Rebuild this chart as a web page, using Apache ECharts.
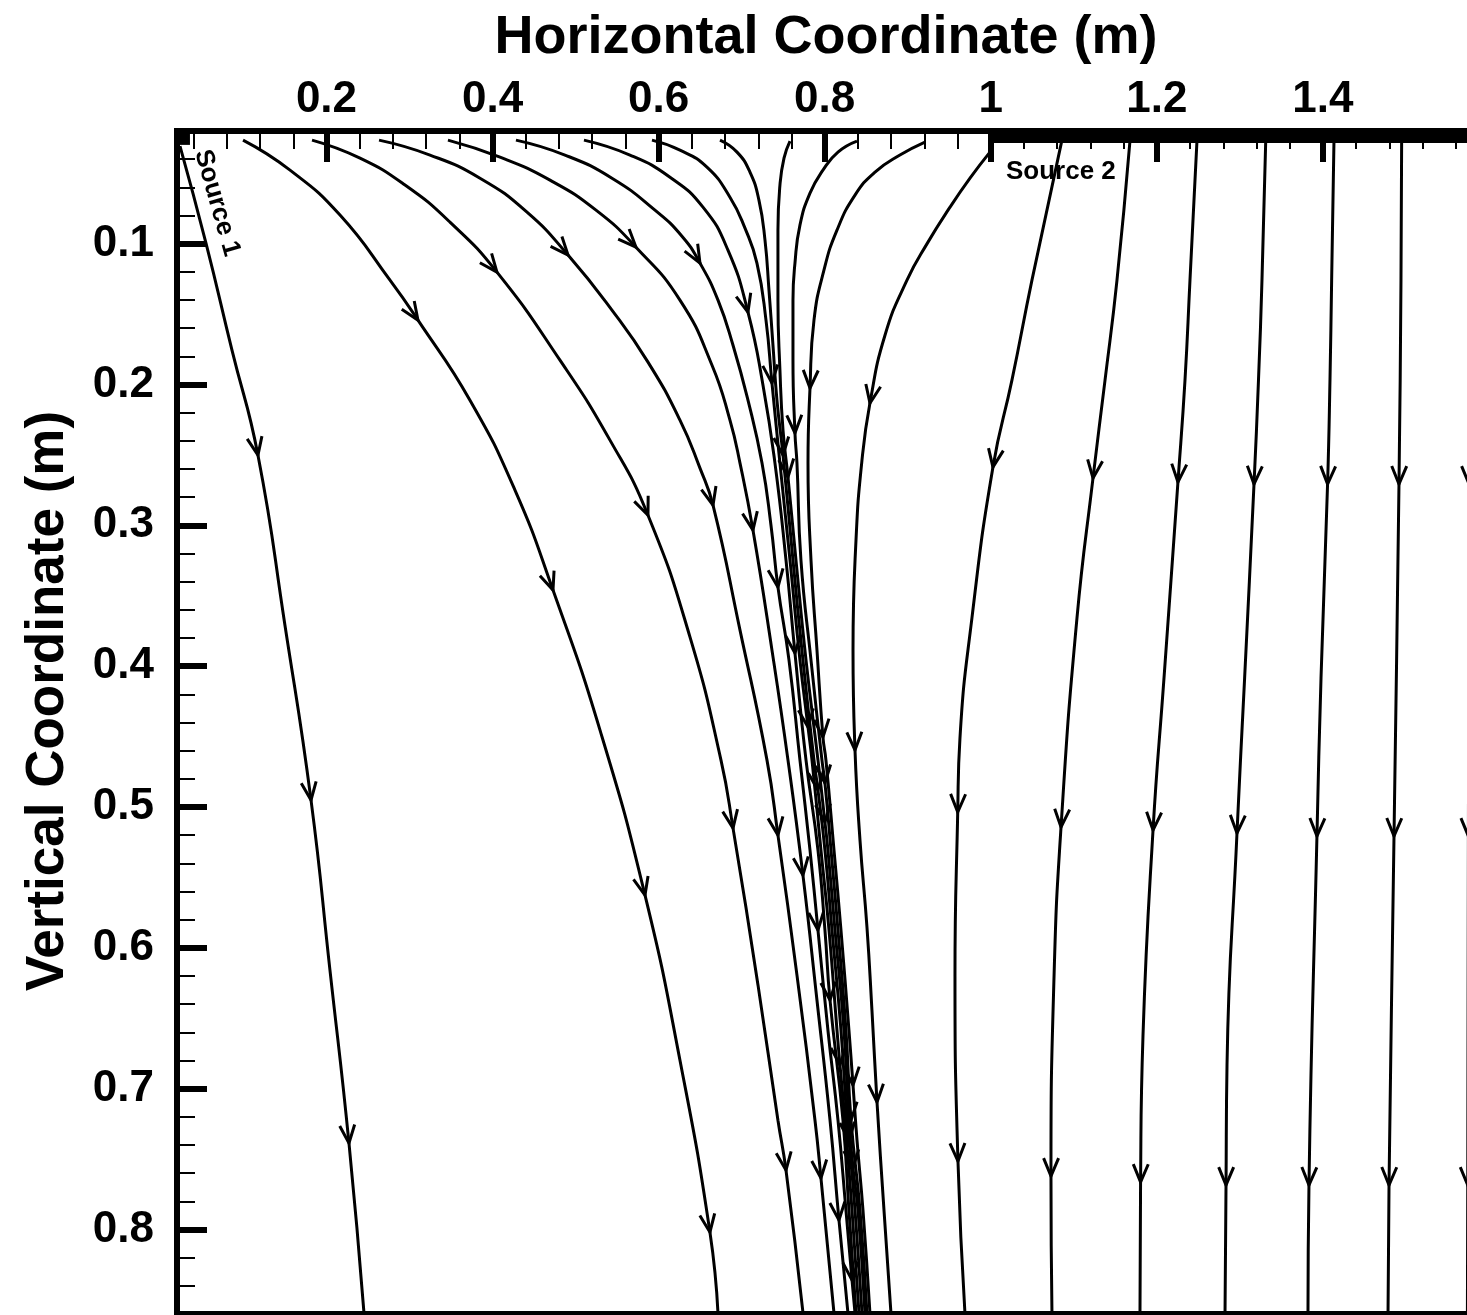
<!DOCTYPE html>
<html><head><meta charset="utf-8">
<script src="https://cdn.jsdelivr.net/npm/echarts@6/dist/echarts.min.js"></script>
<style>html,body{margin:0;padding:0;background:#fff;overflow:hidden}#c{width:1467px;height:1315px}</style>
</head><body><div id="c"></div>
<script>
// ---- axis ticks ----
const xTickLabels = [0.2, 0.4, 0.6, 0.8, 1, 1.2, 1.4];
const xMinorTicks = [0.04,0.08,0.12,0.16,0.24,0.28,0.32,0.36,0.44,0.48,0.52,0.56,0.64,0.68,0.72,0.76,0.84,0.88,0.92,0.96,1.04,1.08,1.12,1.16,1.24,1.28,1.32,1.36,1.44,1.48,1.52,1.56];
const yTickLabels = [0.1, 0.2, 0.3, 0.4, 0.5, 0.6, 0.7, 0.8];
const yMinorTicks = [0.04,0.06,0.08,0.12,0.14,0.16,0.18,0.22,0.24,0.26,0.28,0.32,0.34,0.36,0.38,0.42,0.44,0.46,0.48,0.52,0.54,0.56,0.58,0.62,0.64,0.66,0.68,0.72,0.74,0.76,0.78,0.82,0.84];

// ---- sources ----
const source1Extent = [[0.02, 0.0256], [0.0356, 0.0256]];
const source2Extent = [[1.0, 0.0254], [1.6, 0.0254]];

// ---- streamlines [x, y] (m) and arrow positions (point indices) ----
const sl01 = [[0.0236,0.0307],[0.0549,0.0996],[0.0862,0.1756],[0.1175,0.2502],[0.1500,0.3709],[0.1814,0.4951],[0.2042,0.6158],[0.2271,0.7387],[0.2452,0.8594]];
const ar01 = [3,5,7];
const sl02 = [[0.0995,0.0265],[0.1561,0.0478],[0.2163,0.0797],[0.2765,0.1259],[0.3102,0.1543],[0.3728,0.2111],[0.4270,0.2750],[0.4728,0.3460],[0.5294,0.4454],[0.5836,0.5626],[0.6257,0.6798],[0.6618,0.8019],[0.6715,0.8594]];
const ar02 = [4,7,9,11];
const sl03 = [[0.1826,0.0265],[0.2404,0.0393],[0.2946,0.0584],[0.3487,0.0847],[0.4053,0.1202],[0.4812,0.1827],[0.5414,0.2395],[0.5872,0.2928],[0.6378,0.3794],[0.6751,0.4667],[0.6896,0.5150],[0.7197,0.6265],[0.7437,0.7224],[0.7534,0.7579],[0.7739,0.8594]];
const ar03 = [4,7,10,13];
const sl04 = [[0.2633,0.0265],[0.3247,0.0371],[0.3849,0.0535],[0.4415,0.0776],[0.4909,0.1081],[0.5438,0.1472],[0.5872,0.1841],[0.6257,0.2253],[0.6498,0.2594],[0.6655,0.2857],[0.6980,0.3744],[0.7305,0.4667],[0.7437,0.5200],[0.7666,0.6194],[0.7883,0.7224],[0.7955,0.7635],[0.8112,0.8594]];
const ar04 = [4,9,12,15];
const sl05 = [[0.3463,0.0265],[0.4090,0.0386],[0.4692,0.0549],[0.5246,0.0762],[0.5727,0.1025],[0.6257,0.1401],[0.6643,0.1863],[0.6859,0.2253],[0.6980,0.2558],[0.7136,0.3034],[0.7365,0.3886],[0.7558,0.4667],[0.7738,0.5484],[0.7907,0.6372],[0.8064,0.7224],[0.8172,0.7934],[0.8280,0.8594]];
const ar05 = [4,9,12,15];
const sl06 = [[0.4282,0.0265],[0.4872,0.0371],[0.5438,0.0535],[0.5956,0.0762],[0.6281,0.0947],[0.6498,0.1138],[0.6715,0.1401],[0.6896,0.1721],[0.7076,0.2111],[0.7245,0.2558],[0.7353,0.2999],[0.7437,0.3439],[0.7570,0.3957],[0.7702,0.4667],[0.7823,0.5306],[0.7919,0.5874],[0.8039,0.6585],[0.8160,0.7224],[0.8256,0.7863],[0.8329,0.8360],[0.8365,0.8594]];
const ar06 = [5,11,15,19];
const sl07 = [[0.5101,0.0265],[0.5655,0.0371],[0.6137,0.0528],[0.6534,0.0741],[0.6835,0.1046],[0.7076,0.1486],[0.7257,0.2005],[0.7401,0.2558],[0.7534,0.3247],[0.7642,0.3908],[0.7775,0.4667],[0.7919,0.5306],[0.8003,0.5874],[0.8064,0.6372],[0.8220,0.7224],[0.8292,0.7863],[0.8377,0.8594]];
const ar07 = [5,9,13];
const sl08 = [[0.5920,0.0265],[0.6257,0.0336],[0.6582,0.0457],[0.6859,0.0670],[0.7040,0.0890],[0.7184,0.1138],[0.7293,0.1543],[0.7365,0.1990],[0.7461,0.2558],[0.7582,0.3247],[0.7702,0.3957],[0.7799,0.4433],[0.7847,0.4667],[0.7955,0.5306],[0.8052,0.5874],[0.8148,0.6585],[0.8184,0.6833],[0.8244,0.7224],[0.8329,0.7863],[0.8413,0.8594]];
const ar08 = [7,11,16];
const sl09 = [[0.6739,0.0265],[0.6944,0.0350],[0.7100,0.0492],[0.7208,0.0691],[0.7281,0.0975],[0.7329,0.1330],[0.7377,0.1721],[0.7425,0.2111],[0.7498,0.2502],[0.7618,0.3247],[0.7738,0.3957],[0.7871,0.4667],[0.7919,0.4880],[0.8003,0.5306],[0.8088,0.5874],[0.8196,0.6585],[0.8268,0.7224],[0.8292,0.7366],[0.8365,0.7863],[0.8449,0.8594]];
const ar09 = [8,12,17];
const sl10 = [[0.7582,0.0272],[0.7510,0.0393],[0.7461,0.0584],[0.7437,0.0904],[0.7437,0.1401],[0.7461,0.1898],[0.7498,0.2324],[0.7558,0.2658],[0.7654,0.3247],[0.7775,0.3957],[0.7919,0.4667],[0.8003,0.5108],[0.8039,0.5306],[0.8124,0.5874],[0.8232,0.6585],[0.8292,0.7224],[0.8341,0.7564],[0.8401,0.7863],[0.8485,0.8594]];
const ar10 = [7,11,16];
const sl11 = [[0.8389,0.0272],[0.8160,0.0350],[0.7979,0.0478],[0.7823,0.0641],[0.7702,0.0868],[0.7642,0.1138],[0.7618,0.1401],[0.7618,0.1827],[0.7642,0.2345],[0.7666,0.2558],[0.7714,0.3247],[0.7835,0.3957],[0.7967,0.4667],[0.8003,0.4831],[0.8076,0.5306],[0.8160,0.5874],[0.8256,0.6585],[0.8317,0.7224],[0.8425,0.7863],[0.8509,0.8594]];
const ar11 = [8,13,17];
const sl12 = [[0.9207,0.0279],[0.8906,0.0371],[0.8606,0.0492],[0.8365,0.0655],[0.8148,0.0904],[0.7991,0.1188],[0.7871,0.1543],[0.7823,0.2026],[0.7799,0.2558],[0.7835,0.3247],[0.7907,0.3886],[0.7979,0.4504],[0.8015,0.4667],[0.8112,0.5306],[0.8196,0.5874],[0.8292,0.6585],[0.8341,0.6975],[0.8389,0.7366],[0.8461,0.7863],[0.8545,0.8594]];
const ar12 = [7,11,16];
const sl13 = [[0.9990,0.0350],[0.9750,0.0535],[0.9509,0.0741],[0.9244,0.0989],[0.8991,0.1259],[0.8726,0.1650],[0.8545,0.2132],[0.8449,0.2537],[0.8377,0.3105],[0.8341,0.3886],[0.8365,0.4596],[0.8425,0.5235],[0.8509,0.5853],[0.8569,0.6442],[0.8630,0.7096],[0.8714,0.7863],[0.8798,0.8594]];
const ar13 = [6,10,14];
const sl14 = [[1.0857,0.0265],[1.0496,0.1259],[1.0255,0.1969],[1.0026,0.2587],[0.9773,0.3659],[0.9629,0.4511],[0.9602,0.5036],[0.9569,0.6201],[0.9605,0.7515],[0.9689,0.8594]];
const ar14 = [3,6,8];
const sl15 = [[1.1676,0.0272],[1.1520,0.1259],[1.1376,0.1969],[1.1231,0.2665],[1.1038,0.3659],[1.0846,0.5143],[1.0762,0.6201],[1.0725,0.7621],[1.0737,0.8594]];
const ar15 = [3,5,7];
const sl16 = [[1.2483,0.0272],[1.2399,0.1259],[1.2339,0.1969],[1.2254,0.2693],[1.2086,0.4085],[1.1954,0.5164],[1.1833,0.6627],[1.1804,0.7664],[1.1797,0.8594]];
const ar16 = [3,5,7];
const sl17 = [[1.3311,0.0272],[1.3266,0.1259],[1.3224,0.1969],[1.3170,0.2707],[1.3057,0.4085],[1.2965,0.5186],[1.2845,0.6833],[1.2833,0.7685],[1.2821,0.8594]];
const ar17 = [3,5,7];
const sl18 = [[1.4133,0.0272],[1.4105,0.1259],[1.4085,0.1969],[1.4056,0.2707],[1.3977,0.4085],[1.3928,0.5207],[1.3832,0.7685],[1.3820,0.8594]];
const ar18 = [3,5,6];
const sl19 = [[1.4948,0.0272],[1.4940,0.1259],[1.4916,0.2707],[1.4856,0.5207],[1.4796,0.7685],[1.4784,0.8594]];
const ar19 = [2,3,4];
const sl20 = [[1.5770,0.0272],[1.5760,0.2707],[1.5752,0.5207],[1.5744,0.7685],[1.5740,0.8594]];
const ar20 = [1,2,3];

const streamlines = [sl01,sl02,sl03,sl04,sl05,sl06,sl07,sl08,sl09,sl10,sl11,sl12,sl13,sl14,sl15,sl16,sl17,sl18,sl19,sl20];
const arrowIdx = [ar01,ar02,ar03,ar04,ar05,ar06,ar07,ar08,ar09,ar10,ar11,ar12,ar13,ar14,ar15,ar16,ar17,ar18,ar19,ar20];

const arrowData = [];
streamlines.forEach((pts, i) => {
  arrowIdx[i].forEach(k => {
    const p = pts[k], a = pts[k - 1], b = pts[k + 1];
    arrowData.push([p[0], p[1], a[0], a[1], b[0], b[1]]);
  });
});

const FONT = '"Liberation Sans", Arial, Helvetica, sans-serif';
const LW = 3;
const chart = echarts.init(document.getElementById('c'), null, {renderer: 'canvas'});

const series = streamlines.map(pts => ({
  type: 'line', data: pts, symbol: 'none', showSymbol: false, smooth: 0.5,
  lineStyle: {color: '#000', width: LW}, itemStyle: {color: '#000'}, silent: true, z: 3
}));
series.push({type: 'line', data: source1Extent, symbol: 'none', lineStyle: {color: '#000', width: 12, cap: 'butt'}, silent: true, z: 4});
series.push({type: 'line', data: source2Extent, symbol: 'none', lineStyle: {color: '#000', width: 9, cap: 'butt'}, silent: true, z: 4});
series.push({
  type: 'custom', data: arrowData, encode: {x: 0, y: 1}, silent: true, z: 5,
  renderItem: function (params, api) {
    const p = api.coord([api.value(0), api.value(1)]);
    const a = api.coord([api.value(2), api.value(3)]);
    const b = api.coord([api.value(4), api.value(5)]);
    let dx = b[0] - a[0], dy = b[1] - a[1];
    const len = Math.hypot(dx, dy) || 1; dx /= len; dy /= len;
    const L = 18, W = 7.5;
    return {
      type: 'polyline',
      shape: {points: [[p[0] - L * dx - W * dy, p[1] - L * dy + W * dx], [p[0], p[1]], [p[0] - L * dx + W * dy, p[1] - L * dy - W * dx]]},
      style: {stroke: '#000', lineWidth: LW, fill: 'none', lineJoin: 'miter'}
    };
  }
});

const axisCommon = {type: 'value', splitLine: {show: false}};
chart.setOption({
  animation: false,
  backgroundColor: '#fff',
  grid: {left: 177, top: 131, width: 1312, height: 1183, containLabel: false, outerBoundsMode: 'none'},
  xAxis: [
    Object.assign({}, axisCommon, {position: 'top', min: 0.02, max: 1.6,
      axisLine: {show: true, onZero: false, lineStyle: {color: '#000', width: 6, cap: 'square'}},
      axisTick: {show: true, inside: true, length: 31, customValues: xTickLabels, lineStyle: {color: '#000', width: 6}},
      axisLabel: {show: true, customValues: xTickLabels, margin: 9, color: '#000', fontSize: 44, fontWeight: 'bold', fontFamily: FONT}}),
    Object.assign({}, axisCommon, {position: 'top', min: 0.02, max: 1.6,
      axisLine: {show: false},
      axisTick: {show: true, inside: true, length: 18, customValues: xMinorTicks, lineStyle: {color: '#000', width: 2}},
      axisLabel: {show: false}}),
    Object.assign({}, axisCommon, {position: 'bottom', min: 0.02, max: 1.6,
      axisLine: {show: true, onZero: false, lineStyle: {color: '#000', width: 6, cap: 'square'}},
      axisTick: {show: false}, axisLabel: {show: false}})
  ],
  yAxis: [
    Object.assign({}, axisCommon, {position: 'left', inverse: true, min: 0.02, max: 0.86,
      axisLine: {show: true, onZero: false, lineStyle: {color: '#000', width: 6, cap: 'square'}},
      axisTick: {show: true, inside: true, length: 30, customValues: yTickLabels, lineStyle: {color: '#000', width: 6}},
      axisLabel: {show: true, customValues: yTickLabels, margin: 23, color: '#000', fontSize: 44, fontWeight: 'bold', fontFamily: FONT}}),
    Object.assign({}, axisCommon, {position: 'left', inverse: true, min: 0.02, max: 0.86,
      axisLine: {show: false},
      axisTick: {show: true, inside: true, length: 18, customValues: yMinorTicks, lineStyle: {color: '#000', width: 2}},
      axisLabel: {show: false}})
  ],
  graphic: [
    {type: 'text', x: 826, y: 38, silent: true,
     style: {text: 'Horizontal Coordinate (m)', font: 'bold 54px ' + FONT, fill: '#000', textAlign: 'center', textVerticalAlign: 'middle', align: 'center', verticalAlign: 'middle'}},
    {type: 'text', x: 48, y: 701, rotation: Math.PI / 2, silent: true,
     style: {text: 'Vertical Coordinate (m)', font: 'bold 53px ' + FONT, fill: '#000', textAlign: 'center', textVerticalAlign: 'middle', align: 'center', verticalAlign: 'middle'}},
    {type: 'text', x: 1006, y: 172, silent: true,
     style: {text: 'Source 2', font: 'bold 26px ' + FONT, fill: '#000', textAlign: 'left', textVerticalAlign: 'middle', align: 'left', verticalAlign: 'middle'}},
    {type: 'text', x: 217, y: 203, rotation: -74 * Math.PI / 180, silent: true,
     style: {text: 'Source 1', font: 'bold 26px ' + FONT, fill: '#000', textAlign: 'center', textVerticalAlign: 'middle', align: 'center', verticalAlign: 'middle'}}
  ],
  series: series
});
</script>
</body></html>
